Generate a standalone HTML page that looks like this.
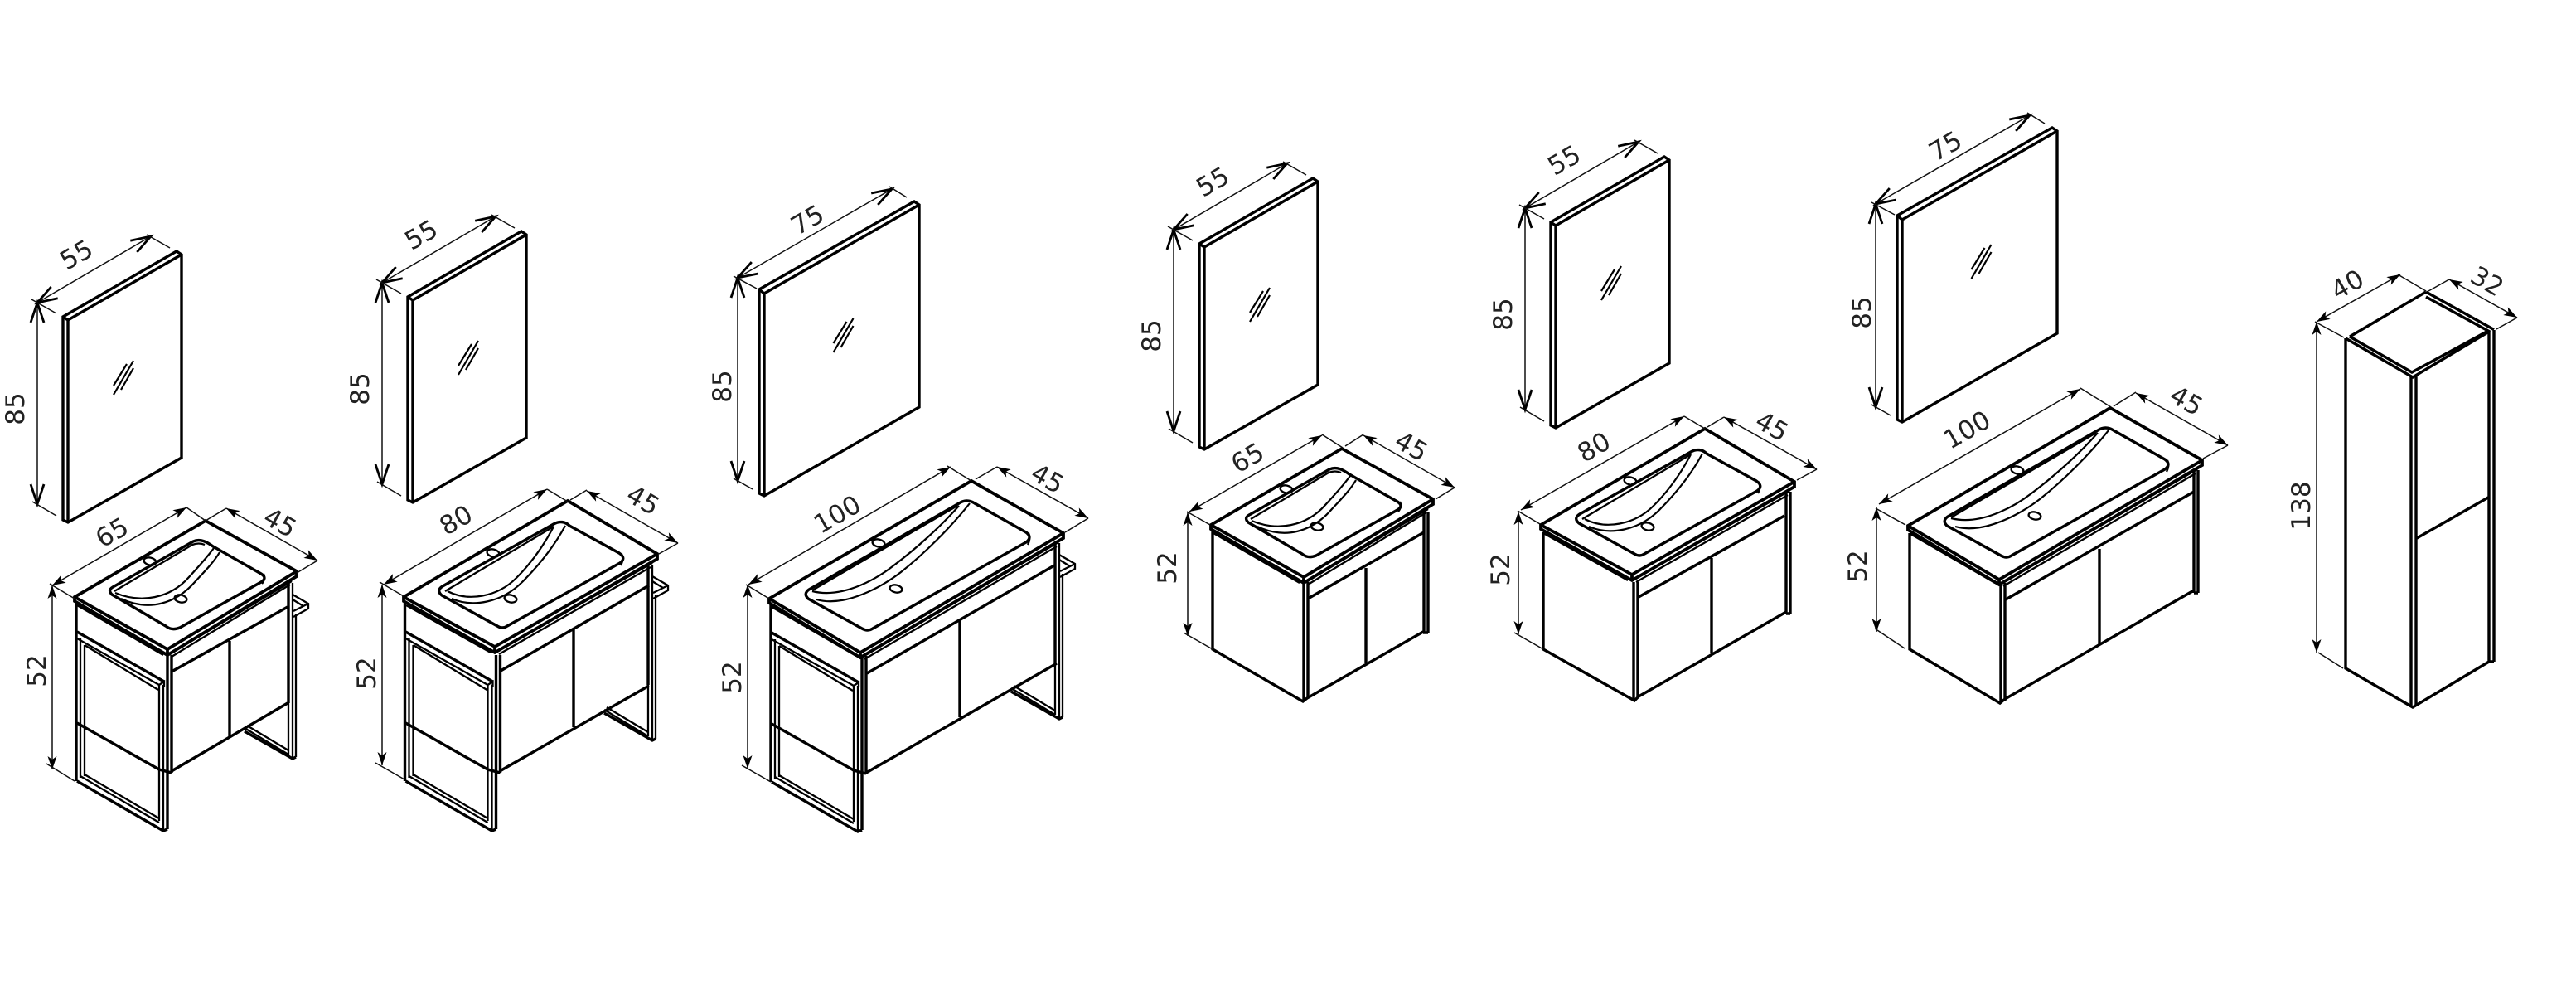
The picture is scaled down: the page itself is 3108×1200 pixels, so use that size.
<!DOCTYPE html>
<html><head><meta charset="utf-8"><title>Vanity dimensions</title>
<style>
html,body{margin:0;padding:0;background:#fff}
svg{display:block}
.s{fill:none;stroke:#000;stroke-width:3.4;stroke-linejoin:miter}
.b{fill:none;stroke:#000;stroke-width:3.8;stroke-linejoin:miter}
.m{fill:none;stroke:#000;stroke-width:2.3}
.n{fill:none;stroke:#000;stroke-width:2.2}
.d{fill:none;stroke:#111;stroke-width:1.5}
.o{marker-start:url(#oa);marker-end:url(#oa)}
.f{marker-start:url(#fa);marker-end:url(#fa)}
text{font-family:"DejaVu Sans","Liberation Sans",sans-serif;font-size:31px;fill:#222;text-anchor:middle}
</style></head><body>
<svg xmlns="http://www.w3.org/2000/svg" width="3108" height="1200" viewBox="0 0 3108 1200">
<defs>
<marker id="oa" orient="auto-start-reverse" markerUnits="userSpaceOnUse" overflow="visible" markerWidth="1" markerHeight="1" refX="0" refY="0"><path d="M-24,-8 L0,0 L-24,8" fill="none" stroke="#000" stroke-width="2.8"/></marker>
<marker id="fa" orient="auto-start-reverse" markerUnits="userSpaceOnUse" overflow="visible" markerWidth="1" markerHeight="1" refX="0" refY="0"><path d="M-16,-5.5 L0,0 L-16,5.5 L-12,0Z" fill="#000"/></marker>

<g id="gl"><path class="n" d="M137,465 L153,439 M146,470 L161,444 M137,476 L161,435"/></g>

<g id="m55">
<path class="s" d="M76,382 L213,303 L219,307 L219,552 L82,630 L76,627Z"/>
<path class="s" d="M76,382 L82,386 L219,307 M82,386 V630"/>
<use href="#gl"/>
<path class="d o" d="M45,365 L182,285"/><path class="d o" d="M45,365 V608"/>
<path class="d" d="M38,361 L68,378 M177,283 L205,299 M39,605 L68,622"/>
</g>

<g id="m75">
<path class="s" d="M916,349 L1103,243 L1109,247 L1109,491 L922,598 L916,595Z"/>
<path class="s" d="M916,349 L922,354 L1109,247 M922,354 V598"/>
<use href="#gl" transform="translate(868.5,-51)"/>
<path class="d o" d="M890,335 L1076,228"/><path class="d o" d="M890,335 V580"/>
<path class="d" d="M885,333 L913,348 M1073,225 L1094,238 M885,577 L908,590"/>
</g>

<g id="t65">
<path d="M90,720 L248,628 L358,689 L358,695 L202,790 L90,725Z" fill="#fff"/>
<path class="b" d="M90,720 L248,628 L358,689 L358,695 L202,790 L90,725Z M90,720 L202,783 L358,689 M202,783 V790"/>
<path class="m" d="M93,730 L197,790 M207,792 L350,705 M206,788 L352,701"/>
<path class="s" d="M233,653 C242,649 250,654 257,659 L315,692 Q323,697 315,702 L217,757 Q207,761 200,755 L135,717 Q129,711 138,707Z"/>
<path class="m" d="M138,713 L232,657 Q240,654 247,657 M318,692 Q321,698 316,704"/>
<path class="n" d="M139,715 C170,728 205,722 228,696 C240,683 250,672 258,661 M146,722 C180,738 212,728 235,702 C247,689 258,678 265,666"/>
<ellipse class="m" cx="181" cy="677" rx="7.5" ry="4.5" transform="rotate(12 181 677)"/>
<ellipse class="m" cx="218" cy="722" rx="7.5" ry="4.5" transform="rotate(12 218 722)"/>
</g>

<g id="t80">
<path d="M487,720 L685,604 L793,668 L793,674 L597,787 L487,725Z" fill="#fff"/>
<path class="b" d="M487,720 L685,604 L793,668 L793,674 L597,787 L487,725Z M487,720 L597,780 L793,668 M597,780 V787"/>
<path class="m" d="M490,730 L592,787 M602,789 L785,684 M601,785 L787,679"/>
<path class="s" d="M668,632 C675,628 682,629 687,634 L747,667 Q756,673 748,679 L612,755 Q606,759 600,755 L533,718 Q526,712 534,707Z"/>
<path class="m" d="M537,713 L668,635 M750,668 Q753,674 749,682"/>
<path class="n" d="M540,713 C565,726 600,720 623,697 C640,680 655,660 668,635 M545,722 C570,733 605,727 630,702 C650,682 668,660 682,634"/>
<ellipse class="m" cx="595" cy="667" rx="7.5" ry="4.5" transform="rotate(12 595 667)"/>
<ellipse class="m" cx="616" cy="722" rx="7.5" ry="4.5" transform="rotate(12 616 722)"/>
</g>

<g id="t100">
<path d="M928,722 L1172,580 L1283,643 L1283,649 L1038,793 L928,727Z" fill="#fff"/>
<path class="b" d="M928,722 L1172,580 L1283,643 L1283,649 L1038,793 L928,727Z M928,722 L1038,787 L1283,643 M1038,787 V793"/>
<path class="m" d="M931,732 L1033,791 M1043,795 L1275,659 M1042,791 L1277,654"/>
<path class="s" d="M1157,607 C1163,603 1170,603 1176,607 L1238,642 Q1246,648 1238,654 L1053,758 Q1047,762 1040,758 L975,722 Q969,716 976,711Z"/>
<path class="m" d="M980,712 L1155,610 M1241,643 Q1244,649 1240,657"/>
<path class="n" d="M980,713 C1015,722 1055,700 1077,683 C1105,662 1135,635 1157,610 M985,723 C1020,733 1065,707 1087,690 C1115,668 1148,635 1170,607"/>
<ellipse class="m" cx="1060" cy="655" rx="7.5" ry="4.5" transform="rotate(12 1060 655)"/>
<ellipse class="m" cx="1081" cy="710" rx="7.5" ry="4.5" transform="rotate(12 1081 710)"/>
</g>

<g id="fr">
<path class="s" d="M92,727 V942"/>
<path class="m" d="M97,770 V938 M102,778 V936"/>
<path class="s" d="M93,762 L198,822"/>
<path class="m" d="M93,770 L192,826 L198,822 V828 M102,778 L191,832"/>
<path class="m" d="M192,826 V990 M197,826 V1002"/>
<path class="s" d="M202,790 V1000 M207,790 V932"/>
<path class="s" d="M93,942 L197,1002 L202,1000"/>
<path class="m" d="M97,936 L192,992 M102,934 L192,987"/>
<path class="s" d="M93,872 L192,928 L207,932"/>
</g>

<g id="rl">
<path class="m" d="M348,703 V910 M353,703 V915 M357,740 V913"/>
<path class="s" d="M348,703 V848"/>
<path class="m" d="M295,878 L348,910 M298,875 L348,905"/>
<path class="s" d="M295,882 L353,915 L357,913"/>
<path class="m" d="M353,717 L372,728 L372,734 L354,744 M354,737 L372,728 M353,723 L366,731"/>
</g>
</defs>

<!-- mirrors -->
<use href="#m55"/>
<use href="#m55" transform="translate(416,-24)"/>
<use href="#m75"/>
<use href="#m55" transform="translate(1371,-88)"/>
<use href="#m55" transform="translate(1795,-114)"/>
<use href="#m75" transform="translate(1373,-89)"/>

<!-- vanity 65 legs -->
<use href="#rl"/>
<use href="#fr"/>
<path class="s" d="M207,930 L347,848 M207,810 L347,732 M277,773 V888"/>
<use href="#t65"/>
<path class="d f" d="M63,706 L225,612"/><path class="d f" d="M273,613 L383,676"/><path class="d f" d="M63,706 V928"/>
<path class="d" d="M60,704 L90,722 M225,612 L248,628 M273,613 L248,628 M383,676 L358,691 M56,921 L90,942"/>

<!-- vanity 80 legs -->
<use href="#rl" transform="translate(434,-22)"/>
<use href="#fr" transform="translate(396.5,0)"/>
<path class="s" d="M603,930 L783,827 M604,809 L783,706 M692,759 V877"/>
<use href="#t80"/>
<path class="d f" d="M463,705 L660,590"/><path class="d f" d="M708,592 L818,655"/><path class="d f" d="M461,705 V923"/>
<path class="d" d="M458,702 L487,719 M660,590 L685,605 M708,591 L688,603 M818,655 L795,668 M453,920 L488,940"/>

<!-- vanity 100 legs -->
<use href="#rl" transform="translate(925,-48)"/>
<use href="#fr" transform="translate(838,1)"/>
<path class="s" d="M1045,932 L1275,800 M1046,812 L1272,682 M1158,748 V865"/>
<use href="#t100"/>
<path class="d f" d="M903,705 L1147,563"/><path class="d f" d="M1203,563 L1313,625"/><path class="d f" d="M902,705 V927"/>
<path class="d" d="M900,705 L928,722 M1143,562 L1172,580 M1203,563 L1177,578 M1313,625 L1285,642 M895,923 L930,943"/>

<!-- vanity 65 wall -->
<path class="s" d="M1463,638 V783 L1572,846 L1577,842 L1717,762 M1573,702 V846 M1578,702 V842 M1578,722 L1718,642 M1648,685 V800 M1718,617 V763 M1723,617 V763 M1717,763 H1723"/>
<use href="#t65" transform="translate(1371,-87)"/>
<path class="d f" d="M1435,617 L1595,525"/><path class="d f" d="M1645,525 L1755,588"/><path class="d f" d="M1433,618 V767"/>
<path class="d" d="M1432,617 L1460,633 M1595,524 L1620,540 M1645,524 L1623,538 M1755,588 L1732,602 M1428,763 L1463,783"/>

<!-- vanity 80 wall -->
<path class="s" d="M1862,642 V783 L1972,845 L1977,840 L2155,738 M1971,702 V845 M1976,702 V842 M1977,720 L2153,622 M2065,673 V788 M2155,593 V740 M2160,593 V740 M2155,740 H2160"/>
<use href="#t80" transform="translate(1372,-87)"/>
<path class="d f" d="M1835,615 L2032,502"/><path class="d f" d="M2080,503 L2192,566"/><path class="d f" d="M1832,617 V765"/>
<path class="d" d="M1831,616 L1858,632 M2032,502 L2057,517 M2080,503 L2060,515 M2192,566 L2168,579 M1827,763 L1862,783"/>

<!-- vanity 100 wall -->
<path class="s" d="M2304,643 V783 L2413,848 L2419,843 L2647,712 M2414,703 V848 M2419,703 V845 M2420,723 L2647,593 M2533,662 V777 M2647,567 V715 M2652,567 V715 M2647,715 H2652"/>
<use href="#t100" transform="translate(1374,-88)"/>
<path class="d f" d="M2267,608 L2510,469"/><path class="d f" d="M2577,474 L2688,537"/><path class="d f" d="M2264,612 V762"/>
<path class="d" d="M2263,613 L2299,633 M2510,468 L2547,491 M2577,473 L2550,490 M2688,537 L2658,553 M2262,758 L2298,782"/>

<!-- tall cabinet -->
<path class="s" d="M2830,408 L2911,455 L3003,400 M2927,352 L3009,397.5 M2835,406 L2927,352 M2927,358 L3002,399 L2910,449 L2835,406"/>
<path class="s" d="M2830,408 V806 L2911,853 L3003,798 M2909,455 V853 M2915,452 V850 M3003,399 V798 M3009,398 V798 M3003,798 H3009 M2916,649 L3002,600"/>
<path class="d f" d="M2795,388 L2896,331"/><path class="d f" d="M2955,337 L3037,383"/><path class="d f" d="M2795,388 V787"/>
<path class="d" d="M2793,388 L2828,407 M2893,331 L2927,351 M2955,337 L2930,351 M3037,383 L3012,397 M2797,787 L2827,806"/>

<!-- labels -->
<text transform="translate(92,307) rotate(-30)" y="11">55</text>
<text transform="translate(18,493) rotate(-90)" y="11">85</text>
<text transform="translate(508,283) rotate(-30)" y="11">55</text>
<text transform="translate(434,469) rotate(-90)" y="11">85</text>
<text transform="translate(974,265) rotate(-30)" y="11">75</text>
<text transform="translate(871,466) rotate(-90)" y="11">85</text>
<text transform="translate(1463,219) rotate(-30)" y="11">55</text>
<text transform="translate(1389,405) rotate(-90)" y="11">85</text>
<text transform="translate(1887,193) rotate(-30)" y="11">55</text>
<text transform="translate(1813,379) rotate(-90)" y="11">85</text>
<text transform="translate(2347,176) rotate(-30)" y="11">75</text>
<text transform="translate(2246,377) rotate(-90)" y="11">85</text>

<text transform="translate(135,642) rotate(-30)" y="11">65</text>
<text transform="translate(338,630) rotate(30)" y="11">45</text>
<text transform="translate(44,809) rotate(-90)" y="11">52</text>
<text transform="translate(550,627) rotate(-30)" y="11">80</text>
<text transform="translate(776,603) rotate(30)" y="11">45</text>
<text transform="translate(442,812) rotate(-90)" y="11">52</text>
<text transform="translate(1010,620) rotate(-30)" y="11">100</text>
<text transform="translate(1264,577) rotate(30)" y="11">45</text>
<text transform="translate(883,817) rotate(-90)" y="11">52</text>

<text transform="translate(1505,552) rotate(-30)" y="11">65</text>
<text transform="translate(1703,538) rotate(30)" y="11">45</text>
<text transform="translate(1408,685) rotate(-90)" y="11">52</text>
<text transform="translate(1923,539) rotate(-30)" y="11">80</text>
<text transform="translate(2138,514) rotate(30)" y="11">45</text>
<text transform="translate(1810,687) rotate(-90)" y="11">52</text>
<text transform="translate(2373,518) rotate(-30)" y="11">100</text>
<text transform="translate(2638,483) rotate(30)" y="11">45</text>
<text transform="translate(2241,683) rotate(-90)" y="11">52</text>

<text transform="translate(2832,343) rotate(-30)" y="11">40</text>
<text transform="translate(3001,339) rotate(30)" y="11">32</text>
<text transform="translate(2776,610) rotate(-90)" y="11">138</text>
</svg>
</body></html>
